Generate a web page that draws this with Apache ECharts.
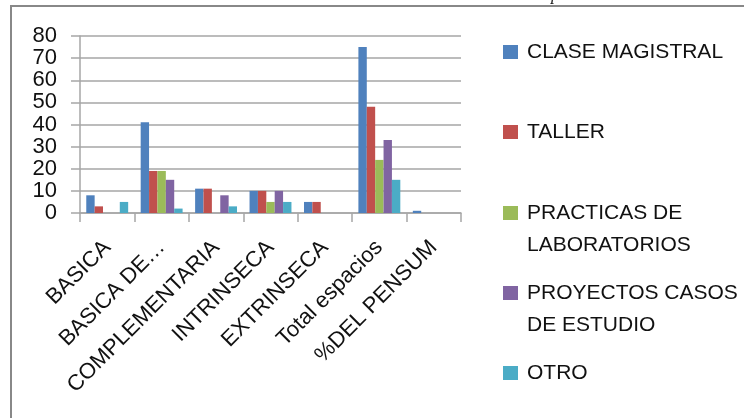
<!DOCTYPE html>
<html>
<head>
<meta charset="utf-8">
<script src="https://cdn.jsdelivr.net/npm/echarts@6/dist/echarts.min.js"></script>
<style>
html,body{margin:0;padding:0;background:#fff;}
#chart{width:744px;height:418px;}
</style>
</head>
<body>
<div id="chart"></div>
<script>
var categories = ['BASICA', 'BASICA DE…', 'COMPLEMENTARIA', 'INTRINSECA', 'EXTRINSECA', 'Total espacios', '%DEL PENSUM'];
var seriesNames = ['CLASE MAGISTRAL', 'TALLER', 'PRACTICAS DE LABORATORIOS', 'PROYECTOS CASOS DE ESTUDIO', 'OTRO'];
var claseMagistral = [8, 41, 11, 10, 5, 75, 1];
var taller = [3, 19, 11, 10, 5, 48, 0];
var practicas = [0, 19, 0, 5, 0, 24, 0];
var proyectos = [0, 15, 8, 10, 0, 33, 0];
var otro = [5, 2, 3, 5, 0, 15, 0];
var yTicks = [0, 10, 20, 30, 40, 50, 60, 70, 80];
var legendLabels = ['CLASE MAGISTRAL', 'TALLER', '\nPRACTICAS DE\nLABORATORIOS', '\nPROYECTOS CASOS\nDE ESTUDIO', 'OTRO'];

var colors = ['#4F81BD', '#C0504D', '#9BBB59', '#8064A2', '#4BACC6'];
var valuesList = [claseMagistral, taller, practicas, proyectos, otro];
var FONT = '"Liberation Sans", Arial, sans-serif';

var chart = echarts.init(document.getElementById('chart'), null, {renderer: 'canvas'});

var legendCenters = [52, 132, 213, 293, 373];
var legends = seriesNames.map(function (name, i) {
  var lines = legendLabels[i].split('\n').length;
  var lh = 32;
  return {
    data: [name],
    left: 503,
    top: legendCenters[i] - (lines * lh) / 2,
    padding: 0,
    itemWidth: 15,
    itemHeight: 14,
    selectedMode: false,
    icon: 'rect',
    formatter: function () { return legendLabels[i]; },
    textStyle: {
      fontFamily: FONT,
      fontSize: 21,
      color: '#111',
      lineHeight: lh,
      padding: [0, 0, 0, 4]
    }
  };
});

var option = {
  animation: false,
  color: colors,
  graphic: [
    {
      type: 'rect',
      shape: {x: 11, y: 6, width: 800, height: 500},
      style: {fill: 'none', stroke: '#888888', lineWidth: 2},
      silent: true
    },
    {
      type: 'text',
      x: 551, y: -13,
      style: {text: 'p', font: 'italic 17px "Liberation Serif", serif', fill: '#111'},
      silent: true
    }
  ],
  legend: legends,
  grid: {left: 80, right: 283, top: 36, bottom: 205, containLabel: false},
  xAxis: {
    type: 'category',
    data: categories,
    boundaryGap: true,
    axisLine: {lineStyle: {color: '#a6a6a6', width: 1.5}},
    axisTick: {show: true, alignWithLabel: false, length: 9, lineStyle: {color: '#a6a6a6', width: 1.5}},
    axisLabel: {
      rotate: 45,
      interval: 0,
      margin: 31,
      fontFamily: FONT,
      fontSize: 22,
      color: '#111'
    }
  },
  yAxis: {
    type: 'value',
    min: yTicks[0],
    max: yTicks[yTicks.length - 1],
    interval: 10,
    axisLine: {show: true, lineStyle: {color: '#a6a6a6', width: 1.5}},
    axisTick: {show: true, inside: false, length: 9, lineStyle: {color: '#a6a6a6', width: 1.5}},
    splitLine: {show: true, lineStyle: {color: '#a6a6a6', width: 1.5}},
    axisLabel: {
      margin: 23,
      fontFamily: FONT,
      fontSize: 22,
      color: '#111'
    }
  },
  series: seriesNames.map(function (name, i) {
    return {
      name: name,
      type: 'bar',
      data: valuesList[i],
      barGap: '0%',
      barCategoryGap: '23%',
      itemStyle: {color: colors[i]}
    };
  })
};
chart.setOption(option);
</script>
</body>
</html>
